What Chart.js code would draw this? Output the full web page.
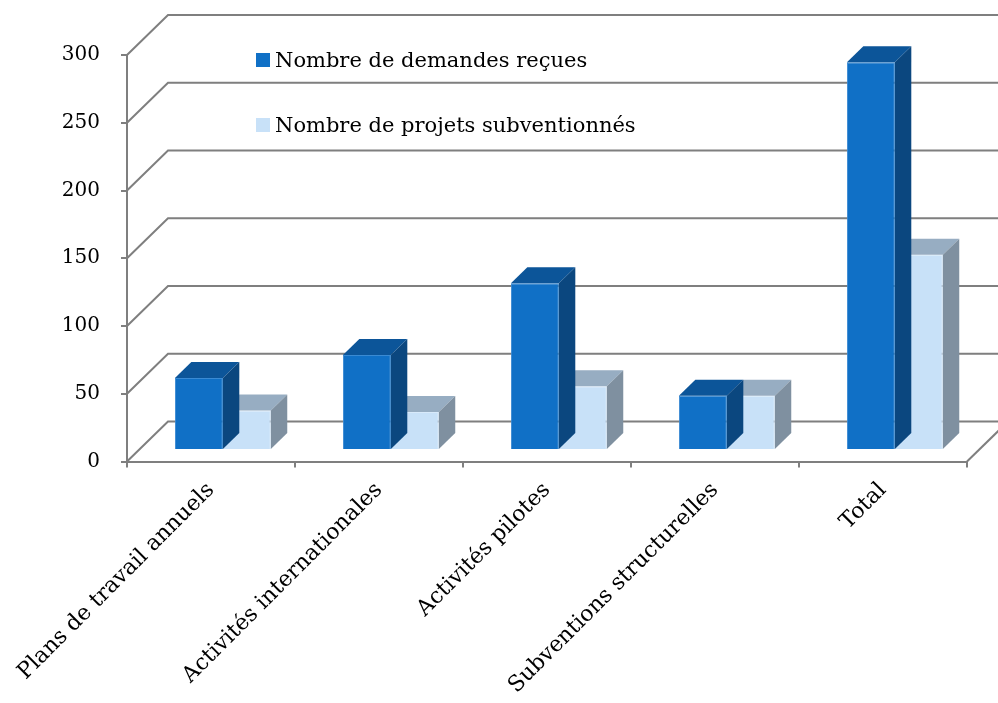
<!DOCTYPE html>
<html>
<head>
<meta charset="utf-8">
<script src="https://cdn.jsdelivr.net/npm/chart.js@4.4.0/dist/chart.umd.min.js"></script>
<style>
    body { margin: 0; background: #fff; }
    #wrap { width: 998px; height: 703px; position: relative; }
</style>
</head>
<body>
<div id="wrap"><canvas id="subventionsChart"></canvas></div>
<script>
const categories = ['Plans de travail annuels', 'Activités internationales', 'Activités pilotes', 'Subventions structurelles', 'Total'];
const demandesRecues = [53, 70, 123, 40, 286];
const projetsSubventionnes = [29, 28, 47, 40, 144];
const seriesLabels = ['Nombre de demandes reçues', 'Nombre de projets subventionnés'];
const yTicks = [0, 50, 100, 150, 200, 250, 300];

const FONT = "'DejaVu Serif', 'Liberation Serif', serif";
const GRID = '#7f7f7f';
// décalage oblique de la vue 3D
const DEPTH = { dx: 41, dy: 40 };
const BAR_SHIFT = 0.29;   // position des barres dans la profondeur
const BAR_DEPTH = 0.4;    // épaisseur des barres
const LEGEND = { x: 256, y: 53, gap: 65, box: 14 };

// murs et quadrillage en perspective
const wallsPlugin = {
    id: 'walls3d',
    beforeDatasetsDraw(chart) {
        const { ctx, chartArea: a, scales: { y } } = chart;
        ctx.save();
        ctx.strokeStyle = GRID;
        ctx.lineWidth = 2;
        yTicks.forEach(v => {
            const py = y.getPixelForValue(v);
            ctx.beginPath();
            ctx.moveTo(a.left, py);
            ctx.lineTo(a.left + DEPTH.dx, py - DEPTH.dy);
            ctx.lineTo(a.right + DEPTH.dx + 20, py - DEPTH.dy);
            ctx.stroke();
        });
        ctx.beginPath();
        ctx.moveTo(a.right, a.bottom);
        ctx.lineTo(a.right + DEPTH.dx, a.bottom - DEPTH.dy);
        ctx.stroke();
        ctx.restore();
    }
};

// faces du dessus et du côté des barres
const bars3dPlugin = {
    id: 'bars3d',
    beforeDatasetDraw(chart) {
        chart.ctx.save();
        chart.ctx.translate(DEPTH.dx * BAR_SHIFT, -DEPTH.dy * BAR_SHIFT);
    },
    afterDatasetDraw(chart, args) {
        const ctx = chart.ctx;
        const ds = chart.data.datasets[args.index];
        const ox = DEPTH.dx * BAR_DEPTH;
        const oy = DEPTH.dy * BAR_DEPTH;
        args.meta.data.forEach(bar => {
            const { x, y, base, width } = bar.getProps(['x', 'y', 'base', 'width'], true);
            const l = x - width / 2;
            const r = x + width / 2;
            ctx.fillStyle = ds.topColor;
            ctx.beginPath();
            ctx.moveTo(l, y);
            ctx.lineTo(r, y);
            ctx.lineTo(r + ox, y - oy);
            ctx.lineTo(l + ox, y - oy);
            ctx.closePath();
            ctx.fill();
            ctx.fillStyle = ds.sideColor;
            ctx.beginPath();
            ctx.moveTo(r, y);
            ctx.lineTo(r + ox, y - oy);
            ctx.lineTo(r + ox, base - oy);
            ctx.lineTo(r, base);
            ctx.closePath();
            ctx.fill();
        });
        ctx.restore();
    }
};

const legendPlugin = {
    id: 'legendInside',
    afterDraw(chart) {
        const ctx = chart.ctx;
        ctx.save();
        ctx.font = '21px ' + FONT;
        ctx.textBaseline = 'alphabetic';
        chart.data.datasets.forEach((ds, i) => {
            const top = LEGEND.y + i * LEGEND.gap;
            ctx.fillStyle = ds.backgroundColor;
            ctx.fillRect(LEGEND.x, top, LEGEND.box, LEGEND.box);
            ctx.fillStyle = '#000';
            ctx.fillText(ds.label, LEGEND.x + LEGEND.box + 5, top + LEGEND.box);
        });
        ctx.restore();
    }
};

const ctx = document.getElementById('subventionsChart');
new Chart(ctx, {
    type: 'bar',
    data: {
        labels: categories,
        datasets: [{
            label: seriesLabels[0],
            data: demandesRecues,
            backgroundColor: '#1070c6',
            borderColor: '#3a8ad3',
            borderWidth: 1,
            topColor: '#0c5599',
            sideColor: '#0b477f',
            categoryPercentage: 0.571,
            barPercentage: 1,
            clip: false
        }, {
            label: seriesLabels[1],
            data: projetsSubventionnes,
            backgroundColor: '#c8e1f8',
            borderColor: '#d8eafb',
            borderWidth: 1,
            topColor: '#97adc2',
            sideColor: '#7f90a0',
            categoryPercentage: 0.571,
            barPercentage: 1,
            clip: false
        }]
    },
    options: {
        responsive: true,
        maintainAspectRatio: false,
        animation: false,
        layout: { padding: { top: 55, right: 31, left: 0, bottom: 0 } },
        plugins: {
            legend: { display: false },
            tooltip: { enabled: false }
        },
        scales: {
            x: {
                grid: { drawOnChartArea: false, tickLength: 6, color: GRID, lineWidth: 2 },
                border: { color: GRID, width: 2 },
                ticks: {
                    autoSkip: false,
                    maxRotation: 45,
                    minRotation: 45,
                    padding: 10,
                    color: '#000',
                    font: { family: FONT, size: 22 }
                },
                afterFit(scale) {
                    scale.height = 241.5;
                    scale.paddingLeft = 0;
                    scale.paddingRight = 0;
                }
            },
            y: {
                min: 0,
                max: 300,
                grid: { drawOnChartArea: false, tickLength: 6, color: GRID, lineWidth: 2 },
                border: { color: GRID, width: 2 },
                ticks: {
                    stepSize: 50,
                    padding: 21,
                    color: '#000',
                    font: { family: FONT, size: 20 }
                },
                afterFit(scale) { scale.width = 127; }
            }
        }
    },
    plugins: [wallsPlugin, bars3dPlugin, legendPlugin]
});
</script>
</body>
</html>
